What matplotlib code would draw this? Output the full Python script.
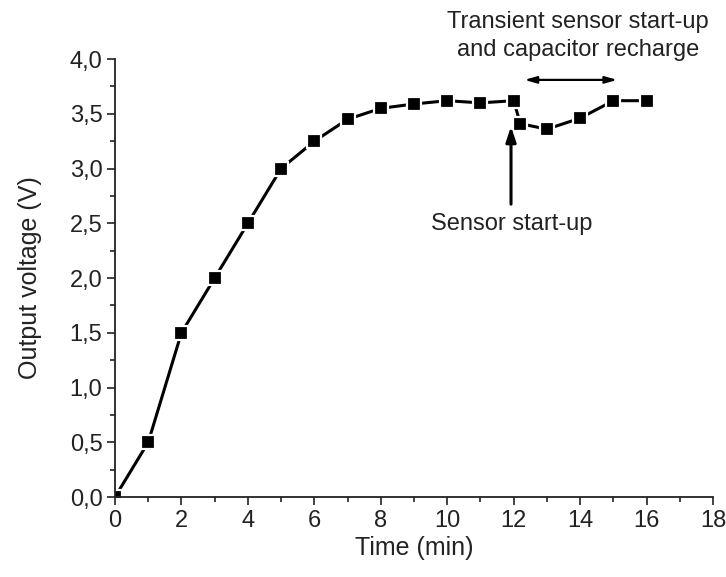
import numpy as np
import matplotlib
matplotlib.use('Agg')
import matplotlib.pyplot as plt
from matplotlib.ticker import MultipleLocator, FuncFormatter

plt.rcParams['font.family'] = ['Liberation Sans', 'DejaVu Sans']

# measured output voltage vs time
time_min = [0, 1, 2, 3, 4, 5, 6, 7, 8, 9, 10, 11, 12, 12.2, 13, 14, 15, 16]
voltage = [0.0, 0.5, 1.5, 2.0, 2.5, 3.0, 3.25, 3.45, 3.55, 3.59, 3.62, 3.6,
           3.62, 3.41, 3.36, 3.46, 3.62, 3.62]

fig = plt.figure(figsize=(7.26, 5.77), dpi=100)
ax = fig.add_axes([0.1584, 0.1386, 0.8237, 0.759])

ax.plot(time_min, voltage, color='black', lw=2.2, marker='s', ms=10.5,
        mfc='black', mec='white', mew=1.6)

ax.set_xlim(0, 18)
ax.set_ylim(0, 4.0)
ax.xaxis.set_major_locator(MultipleLocator(2))
ax.xaxis.set_minor_locator(MultipleLocator(1))
ax.yaxis.set_major_locator(MultipleLocator(0.5))
ax.yaxis.set_minor_locator(MultipleLocator(0.25))
ax.yaxis.set_major_formatter(FuncFormatter(lambda v, p: ('%.1f' % v).replace('.', ',')))

for s in ['top', 'right']:
    ax.spines[s].set_visible(False)
for s in ['left', 'bottom']:
    ax.spines[s].set_linewidth(1.3)
    ax.spines[s].set_color('#222222')
ax.tick_params(which='major', direction='out', length=6, width=1.2, labelsize=17,
               colors='#222222', pad=3)
ax.tick_params(which='minor', direction='out', length=3.5, width=1.2, colors='#222222')

ax.set_xlabel('Time (min)', fontsize=18, color='#222222', labelpad=3)
ax.set_ylabel('Output voltage (V)', fontsize=18, color='#222222', labelpad=20)

# annotations
ax.annotate('', xy=(11.92, 3.41), xytext=(11.92, 2.65),
            arrowprops=dict(arrowstyle='-|>,head_length=0.9,head_width=0.3',
                            color='black', lw=2.2))
ax.text(11.94, 2.49, 'Sensor start-up', fontsize=17, ha='center', va='center',
        color='#222222')
ax.annotate('', xy=(12.24, 3.81), xytext=(15.2, 3.81),
            arrowprops=dict(arrowstyle='<|-|>,head_length=0.7,head_width=0.2',
                            color='black', lw=1.6), annotation_clip=False)
ax.text(13.94, 4.21, 'Transient sensor start-up\nand capacitor recharge',
        fontsize=17, ha='center', va='center', color='#222222',
        linespacing=1.4)

fig.savefig('out.png', dpi=100)
